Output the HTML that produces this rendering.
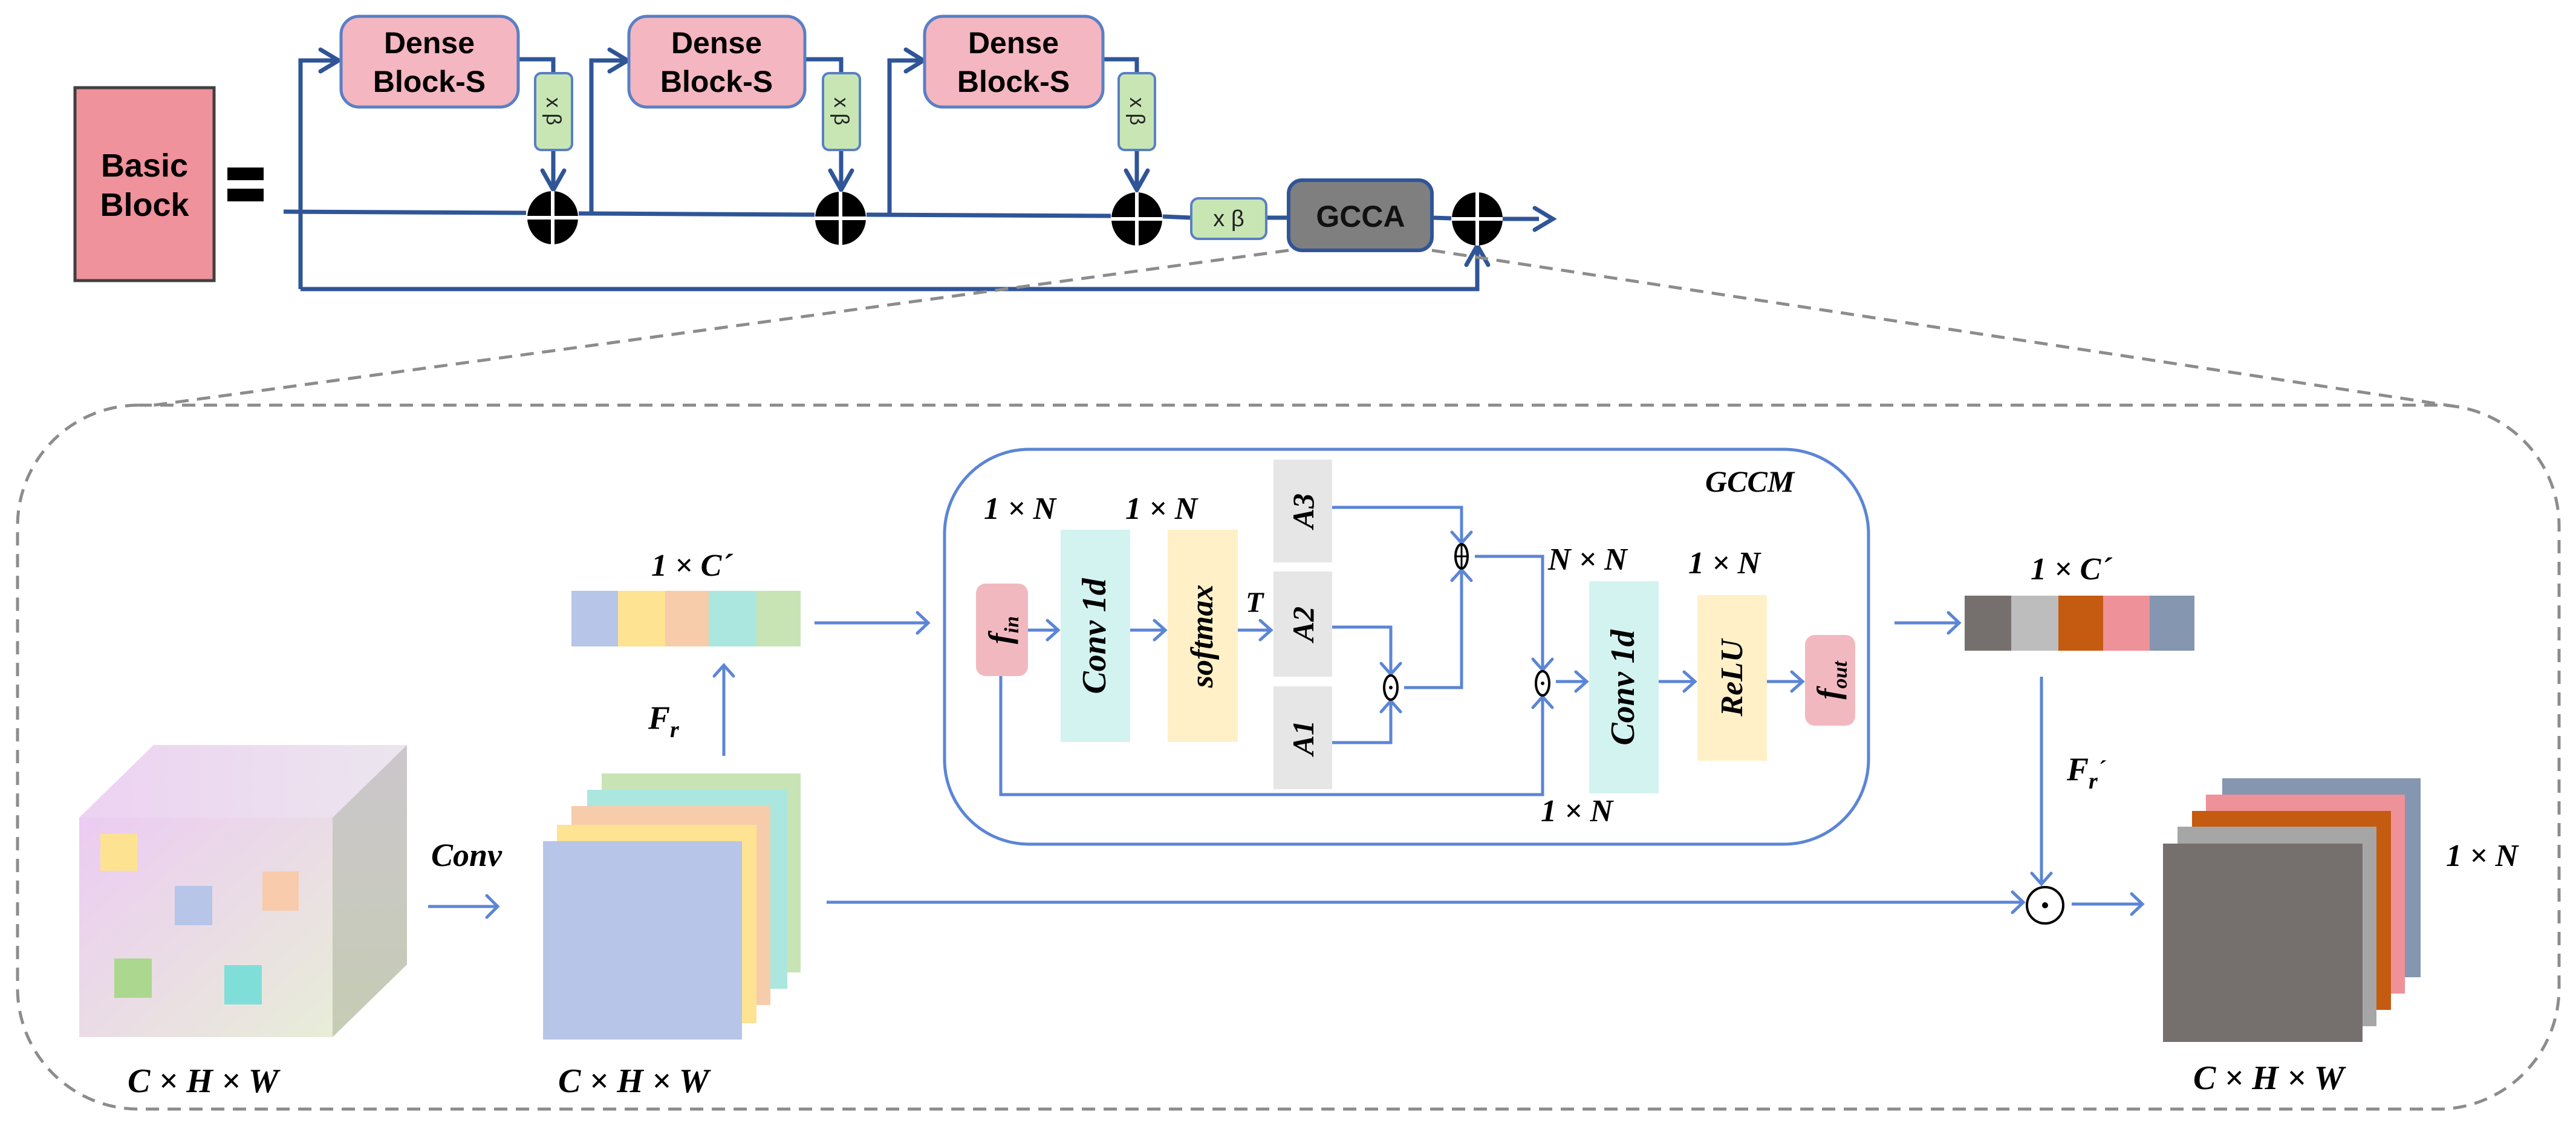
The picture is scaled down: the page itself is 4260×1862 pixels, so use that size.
<!DOCTYPE html>
<html><head><meta charset="utf-8"><style>
html,body{margin:0;padding:0;background:#fff;}
svg{display:block;}
.t{font-family:"Liberation Sans",sans-serif;font-weight:bold;}
.m{font-family:"Liberation Serif",serif;font-style:italic;font-weight:bold;}
</style></head><body>
<svg width="4260" height="1862" viewBox="0 0 4260 1862" xmlns="http://www.w3.org/2000/svg">
<defs>
<marker id="ad" viewBox="0 0 10 10" refX="9" refY="5" markerWidth="6" markerHeight="6" orient="auto" markerUnits="userSpaceOnUse" style="overflow:visible">
</marker>
</defs>
<!-- TOP SECTION -->
<rect x="124" y="145" width="230" height="319" fill="#ef929b" stroke="#404040" stroke-width="5"/>
<text class="t" x="239" y="292" font-size="54" text-anchor="middle">Basic</text>
<text class="t" x="239" y="357" font-size="54" text-anchor="middle">Block</text>
<rect x="376" y="277" width="60" height="21" fill="#000"/>
<rect x="376" y="312" width="60" height="21" fill="#000"/>

<g stroke="#2f5597" stroke-width="7" fill="none">
<!-- main line -->
<path d="M469 350 L870 352 M957 353 L1347 355 M1433 355 L1837 357 M1923 358 L1970 360 M2094 360 L2131 360 M2368 360 L2400 361 M2485 362 L2545 362"/>
<!-- left loops -->
<path d="M497 478 L497 100 L555 100"/>
<path d="M978 354 L978 100 L1032 100"/>
<path d="M1471 356 L1471 100 L1521 100"/>
<path d="M857 98 L915 98 L915 121 M915 248 L915 312"/>
<path d="M1331 98 L1391 98 L1391 121 M1391 248 L1391 312"/>
<path d="M1824 98 L1880 98 L1880 121 M1880 248 L1880 312"/>
<path d="M497 478 L2443 478 L2443 410"/>
</g>
<g stroke="#2f5597" stroke-width="7" fill="none" stroke-linecap="round">
<path d="M530 82 L560 100 L530 118"/>
<path d="M1008 82 L1038 100 L1008 118"/>
<path d="M1498 82 L1527 100 L1498 118"/>
<path d="M897 282 L915 314 L933 282"/>
<path d="M1373 282 L1391 314 L1409 282"/>
<path d="M1862 282 L1880 314 L1898 282"/>
<path d="M2425 438 L2443 406 L2461 438"/>
<path d="M2538 344 L2568 362 L2538 380"/>
</g>
<!-- dense blocks -->
<g fill="#f4b6c0" stroke="#5a7fc4" stroke-width="5">
<rect x="564" y="27" width="293" height="150" rx="30"/>
<rect x="1040" y="27" width="291" height="150" rx="30"/>
<rect x="1529" y="27" width="295" height="150" rx="30"/>
</g>
<g class="t" font-size="50" text-anchor="middle">
<text x="710" y="88">Dense</text><text x="710" y="152">Block-S</text>
<text x="1185" y="88">Dense</text><text x="1185" y="152">Block-S</text>
<text x="1676" y="88">Dense</text><text x="1676" y="152">Block-S</text>
</g>
<!-- xβ vertical -->
<g fill="#c8e6b4" stroke="#5a7fc4" stroke-width="4">
<rect x="885" y="121" width="61" height="127" rx="10"/>
<rect x="1361" y="121" width="61" height="127" rx="10"/>
<rect x="1850" y="121" width="60" height="127" rx="10"/>
<rect x="1970" y="328" width="124" height="67" rx="12"/>
</g>
<g font-family="Liberation Sans,sans-serif" font-size="34" fill="#222">
<text transform="translate(904,184) rotate(90)" text-anchor="middle">x β</text>
<text transform="translate(1380,184) rotate(90)" text-anchor="middle">x β</text>
<text transform="translate(1869,184) rotate(90)" text-anchor="middle">x β</text>
<text x="2032" y="374" text-anchor="middle" font-size="38">x β</text>
</g>
<rect x="2131" y="298" width="237" height="116" rx="22" fill="#7f7f7f" stroke="#2f5597" stroke-width="6"/>
<text class="t" x="2250" y="375" font-size="50" text-anchor="middle" fill="#111">GCCA</text>
<!-- oplus circles -->
<g>
<ellipse cx="914" cy="360" rx="42" ry="44" fill="#000"/>
<ellipse cx="1390" cy="361" rx="42" ry="44" fill="#000"/>
<ellipse cx="1880" cy="362" rx="42" ry="44" fill="#000"/>
<ellipse cx="2443" cy="362" rx="42" ry="44" fill="#000"/>
<g stroke="#fff" stroke-width="6">
<path d="M914 316 V404 M872 360 H956"/>
<path d="M1390 317 V405 M1348 361 H1432"/>
<path d="M1880 318 V406 M1838 362 H1922"/>
<path d="M2443 318 V406 M2401 362 H2485"/>
</g>
</g>
<!-- dashed zoom lines -->
<g stroke="#8c8c8c" stroke-width="5" stroke-dasharray="22 14" fill="none">
<path d="M2131 414 L240 672"/>
<path d="M2368 414 L4060 672"/>
<rect x="29" y="670" width="4203" height="1164" rx="200"/>
</g>

<!-- LOWER SECTION -->
<defs>
<linearGradient id="gf" x1="0" y1="0" x2="1" y2="1"><stop offset="0" stop-color="#eccbf3"/><stop offset="1" stop-color="#e8edd8"/></linearGradient>
<linearGradient id="gt" x1="0" y1="0" x2="1" y2="0"><stop offset="0" stop-color="#edd2f2"/><stop offset="1" stop-color="#ebe6ee"/></linearGradient>
<linearGradient id="gr" x1="0" y1="0" x2="0" y2="1"><stop offset="0" stop-color="#ccc6cc"/><stop offset="1" stop-color="#c5ccb4"/></linearGradient>
</defs>
<polygon points="131,1352 254,1232 673,1232 550,1352" fill="url(#gt)"/>
<polygon points="550,1352 673,1232 673,1595 550,1715" fill="url(#gr)"/>
<rect x="131" y="1352" width="419" height="363" fill="url(#gf)"/>
<rect x="166" y="1379" width="61" height="61" fill="#fde391"/>
<rect x="289" y="1465" width="62" height="65" fill="#b6c5e8"/>
<rect x="434" y="1441" width="60" height="65" fill="#f7cbab"/>
<rect x="189" y="1585" width="62" height="65" fill="#acd78e"/>
<rect x="371" y="1596" width="62" height="65" fill="#7fdfd8"/>

<rect x="995" y="1279" width="329" height="329" fill="#c8e4b4"/>
<rect x="971" y="1306" width="331" height="329" fill="#abe7df"/>
<rect x="945" y="1333" width="329" height="329" fill="#f6ccab"/>
<rect x="921" y="1364" width="330" height="328" fill="#fde392"/>
<rect x="898" y="1391" width="329" height="328" fill="#b6c5e8"/>

<g fill="#b6c5e8"><rect x="945" y="977" width="77" height="92"/></g>
<rect x="1022" y="977" width="78" height="92" fill="#fde392"/>
<rect x="1100" y="977" width="72" height="92" fill="#f6ccab"/>
<rect x="1172" y="977" width="79" height="92" fill="#abe7df"/>
<rect x="1251" y="977" width="73" height="92" fill="#c8e4b4"/>

<rect x="3249" y="985" width="77" height="91" fill="#75706e"/>
<rect x="3326" y="985" width="78" height="91" fill="#bdbdbd"/>
<rect x="3404" y="985" width="74" height="91" fill="#c55a11"/>
<rect x="3478" y="985" width="77" height="91" fill="#ef9199"/>
<rect x="3555" y="985" width="74" height="91" fill="#8496b0"/>

<rect x="3675" y="1287" width="328" height="329" fill="#8496b0"/>
<rect x="3648" y="1314" width="329" height="329" fill="#ef9199"/>
<rect x="3625" y="1341" width="329" height="329" fill="#c55a11"/>
<rect x="3601" y="1367" width="329" height="330" fill="#a6a6a6"/>
<rect x="3577" y="1395" width="330" height="328" fill="#75706e"/>

<!-- GCCM box -->
<rect x="1562" y="743" width="1528" height="653" rx="140" fill="none" stroke="#5b85d6" stroke-width="5"/>
<rect x="1614" y="965" width="86" height="153" rx="16" fill="#f2b8c0"/>
<rect x="1754" y="876" width="115" height="351" fill="#d3f3f0"/>
<rect x="1931" y="876" width="116" height="351" fill="#fff0c8"/>
<rect x="2106" y="760" width="97" height="170" fill="#e6e6e6"/>
<rect x="2106" y="945" width="97" height="174" fill="#e6e6e6"/>
<rect x="2106" y="1135" width="97" height="170" fill="#e6e6e6"/>
<rect x="2628" y="961" width="115" height="351" fill="#d3f3f0"/>
<rect x="2807" y="984" width="115" height="274" fill="#fff0c8"/>
<rect x="2985" y="1050" width="83" height="150" rx="16" fill="#f2b8c0"/>

<g stroke="#5b85d6" stroke-width="5" fill="none">
<path d="M1700 1042 H1750 M1869 1042 H1927 M2047 1042 H2102"/>
<path d="M2203 839 H2417 V898"/>
<path d="M2203 1037 H2300 V1115"/>
<path d="M2203 1228 H2300 V1159"/>
<path d="M2322 1137 H2417 V942"/>
<path d="M2439 920 H2551 V1108"/>
<path d="M1655 1118 V1314 H2551 V1152"/>
<path d="M2573 1127 H2624 M2743 1127 H2803 M2922 1127 H2981"/>
<path d="M708 1499 H823"/>
<path d="M1197 1250 V1100"/>
<path d="M1347 1030 H1535"/>
<path d="M1367 1492 H3346"/>
<path d="M3133 1030 H3240"/>
<path d="M3376 1119 V1462"/>
<path d="M3426 1495 H3543"/>
</g>
<g stroke="#5b85d6" stroke-width="5" fill="none" stroke-linecap="round">
<path d="M1732 1026 L1750 1042 L1732 1058"/>
<path d="M1909 1026 L1927 1042 L1909 1058"/>
<path d="M2084 1026 L2102 1042 L2084 1058"/>
<path d="M2401 880 L2417 898 L2433 880"/>
<path d="M2284 1097 L2300 1115 L2316 1097"/>
<path d="M2284 1177 L2300 1159 L2316 1177"/>
<path d="M2401 960 L2417 942 L2433 960"/>
<path d="M2535 1090 L2551 1108 L2567 1090"/>
<path d="M2535 1170 L2551 1152 L2567 1170"/>
<path d="M2606 1111 L2624 1127 L2606 1143"/>
<path d="M2785 1111 L2803 1127 L2785 1143"/>
<path d="M2963 1111 L2981 1127 L2963 1143"/>
<path d="M805 1481 L823 1499 L805 1517"/>
<path d="M1181 1118 L1197 1100 L1213 1118"/>
<path d="M1517 1013 L1535 1030 L1517 1047"/>
<path d="M3328 1475 L3346 1492 L3328 1509"/>
<path d="M3222 1013 L3240 1030 L3222 1047"/>
<path d="M3360 1444 L3376 1462 L3392 1444"/>
<path d="M3525 1478 L3543 1495 L3525 1512"/>
</g>
<!-- small operators -->
<g fill="#fff" stroke="#000" stroke-width="4">
<ellipse cx="2417" cy="920" rx="10" ry="20"/>
<ellipse cx="2300" cy="1137" rx="11" ry="20"/>
<ellipse cx="2551" cy="1130" rx="11" ry="20"/>
<circle cx="3382" cy="1497" r="30"/>
</g>
<path d="M2407 920 H2427 M2417 900 V940" stroke="#000" stroke-width="3"/>
<circle cx="2300" cy="1137" r="3" fill="#000"/>
<circle cx="2551" cy="1130" r="3" fill="#000"/>
<circle cx="3382" cy="1497" r="5" fill="#000"/>

<!-- labels -->
<g class="m" fill="#000">
<text x="2820" y="813" font-size="50">GCCM</text>
<text x="1627" y="858" font-size="52">1 × N</text>
<text x="1861" y="858" font-size="52">1 × N</text>
<text x="2060" y="1012" font-size="48">T</text>
<text x="2560" y="942" font-size="52">N × N</text>
<text x="2792" y="948" font-size="52">1 × N</text>
<text x="2548" y="1358" font-size="52">1 × N</text>
<text transform="translate(1828,1052) rotate(-90)" text-anchor="middle" font-size="56">Conv 1d</text>
<text transform="translate(2005,1052) rotate(-90)" text-anchor="middle" font-size="52">softmax</text>
<text transform="translate(2172,845) rotate(-90)" text-anchor="middle" font-size="50">A3</text>
<text transform="translate(2172,1032) rotate(-90)" text-anchor="middle" font-size="50">A2</text>
<text transform="translate(2172,1220) rotate(-90)" text-anchor="middle" font-size="50">A1</text>
<text transform="translate(2702,1137) rotate(-90)" text-anchor="middle" font-size="56">Conv 1d</text>
<text transform="translate(2881,1121) rotate(-90)" text-anchor="middle" font-size="52">ReLU</text>
<text transform="translate(1672,1042) rotate(-90)" text-anchor="middle" font-size="54">f<tspan font-size="34" dy="12">in</tspan></text>
<text transform="translate(3042,1125) rotate(-90)" text-anchor="middle" font-size="54">f<tspan font-size="34" dy="12">out</tspan></text>
<text x="713" y="1432" font-size="54">Conv</text>
<text x="1077" y="952" font-size="52">1 × C´</text>
<text x="1072" y="1205" font-size="54">F<tspan font-size="38" dy="14">r</tspan></text>
<text x="3358" y="958" font-size="52">1 × C´</text>
<text x="3418" y="1290" font-size="54">F<tspan font-size="38" dy="14">r</tspan><tspan dy="-20" font-size="38">´</tspan></text>
<text x="4045" y="1432" font-size="52">1 × N</text>
<text x="211" y="1806" font-size="56">C × H × W</text>
<text x="923" y="1806" font-size="56">C × H × W</text>
<text x="3627" y="1801" font-size="56">C × H × W</text>
</g>
</svg>
</body></html>
